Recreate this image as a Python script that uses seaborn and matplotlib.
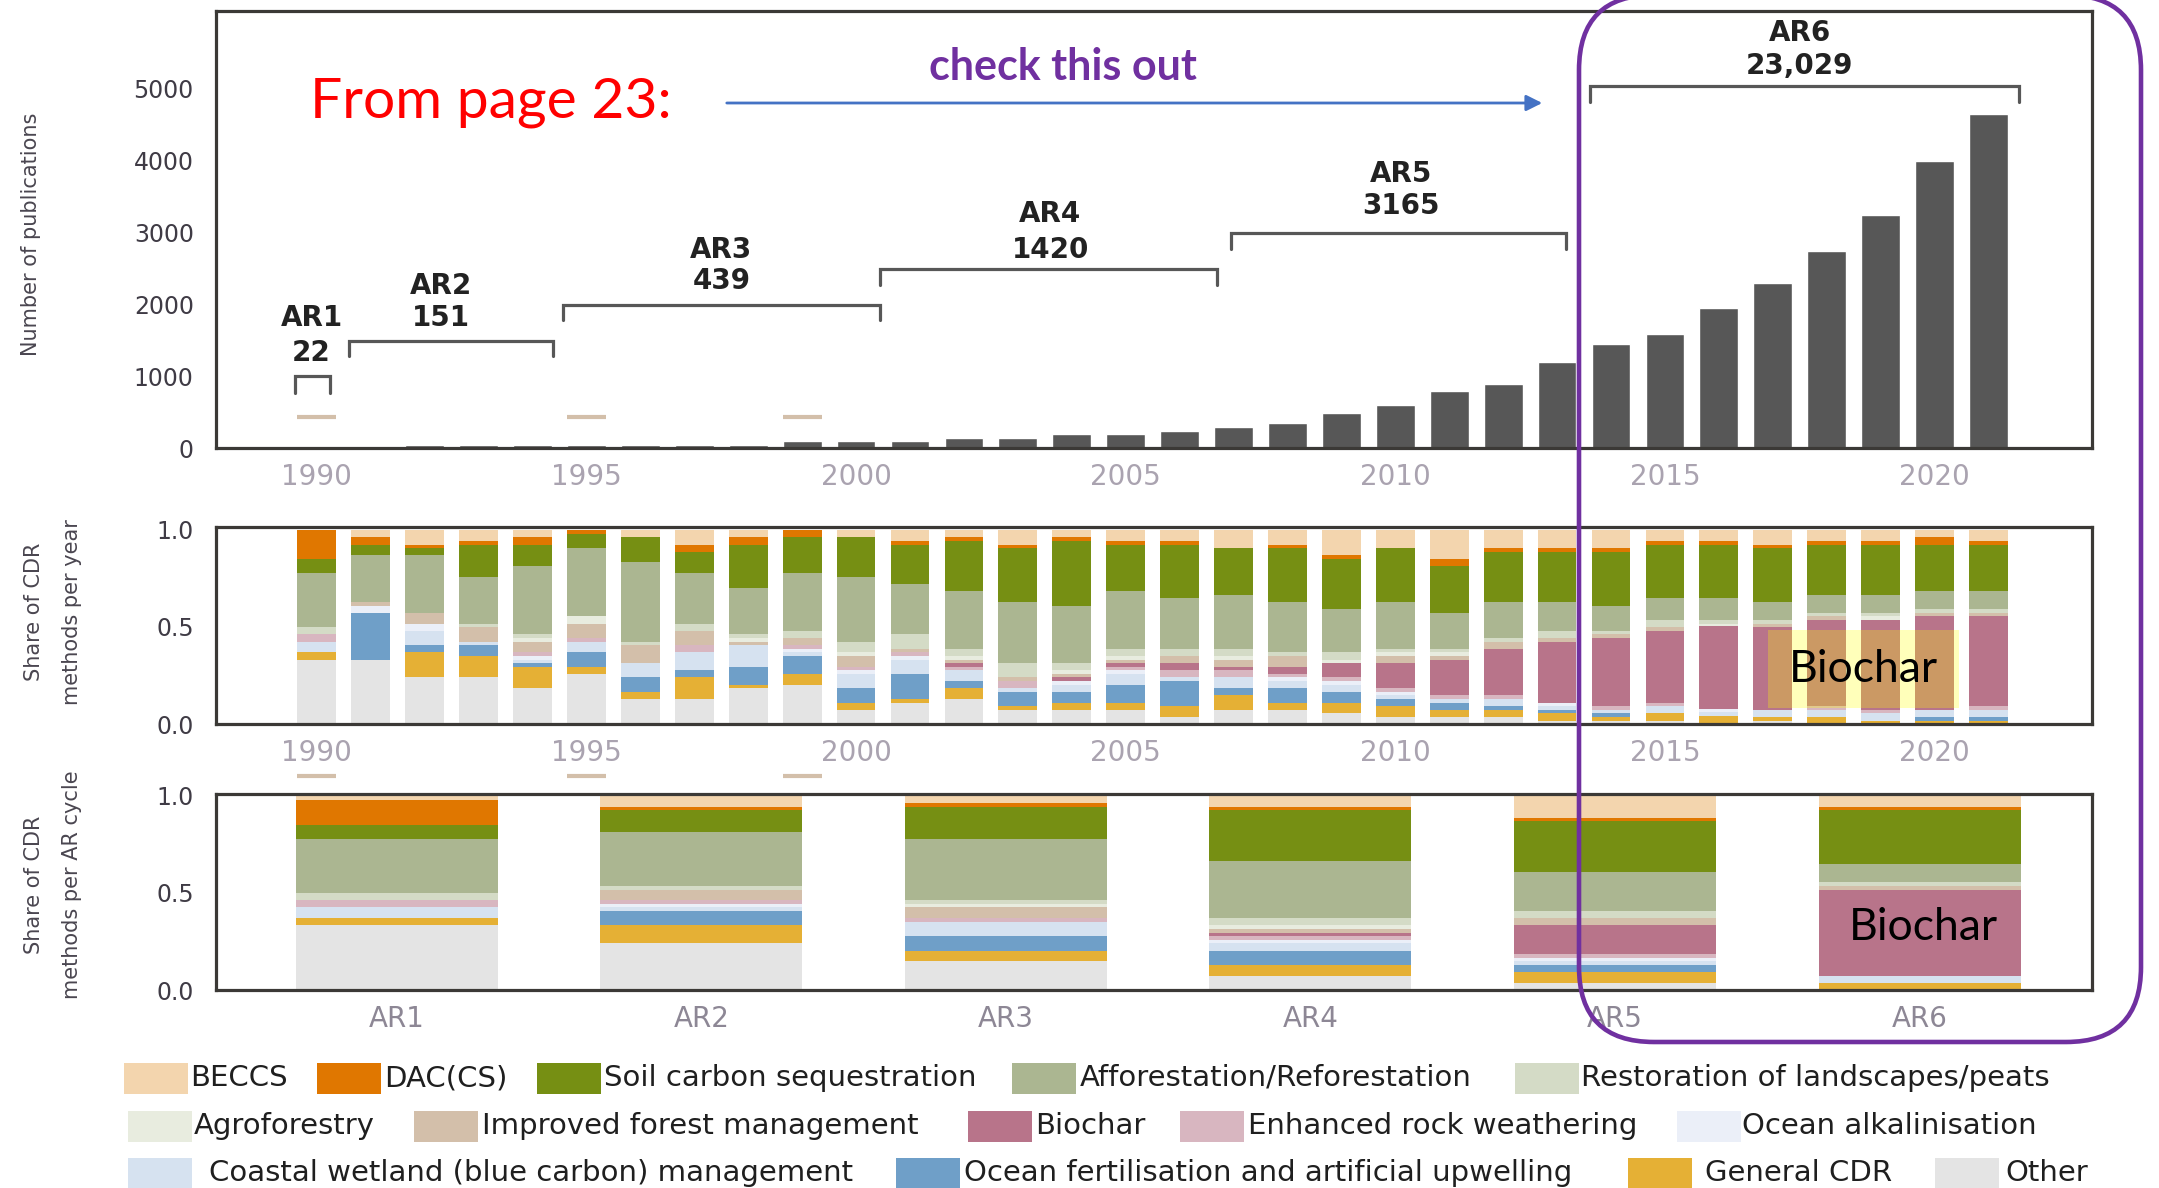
import numpy as np
import pandas as pd
import matplotlib
matplotlib.use("Agg")
import matplotlib.pyplot as plt
from matplotlib import font_manager as fm
from matplotlib.patches import FancyBboxPatch, Rectangle
import seaborn as sns

# ---- data ----
years = list(range(1990, 2022))
publications = [8, 12, 40, 40, 40, 40, 40, 40, 40, 100, 100, 100, 140, 140, 195, 195,
                230, 290, 345, 485, 595, 790, 890, 1195, 1445, 1585, 1950, 2300, 2745,
                3245, 3995, 4645]

methods = ["BECCS", "DAC(CS)", "Soil carbon sequestration", "Afforestation/Reforestation",
           "Restoration of landscapes/peats", "Agroforestry", "Improved forest management",
           "Biochar", "Enhanced rock weathering", "Ocean alkalinisation",
           "Coastal wetland (blue carbon) management",
           "Ocean fertilisation and artificial upwelling", "General CDR", "Other"]
colors = ["#f3d5ae", "#e07700", "#768f13", "#abb691", "#d4dbc6", "#e8ecdf", "#d3bfaa",
          "#b8748a", "#d8b6c0", "#ebeff8", "#d6e2f0", "#6f9fc8", "#e5b035", "#e4e4e4"]

# yearly shares 1990-2021
beccs_yr = [0, .036, .077, .057, .036, 0, .036, .077, .036, 0, .036, .057, .036, .077, .036, .057,
            .057, .093, .077, .129, .093, .15, .093, .093, .093, .057, .057, .077, .057, .057, .036, .057]
dac_yr = [.15, .041, .014, .02, .041, .021, 0, .036, .041, .036, 0, .02, .021, .014, .021, .02,
          .02, 0, .014, .021, 0, .036, .02, .02, .02, .02, .02, .014, .02, .02, .041, .02]
soil_yr = [.072, .052, .038, .165, .109, .072, .129, .109, .222, .186, .206, .201, .257, .28, .335, .237,
           .274, .242, .28, .257, .278, .242, .258, .258, .279, .274, .274, .28, .258, .258, .237, .237]
affor_yr = [.278, .242, .299, .243, .35, .35, .412, .263, .237, .299, .335, .258, .299, .315, .294, .299,
            .262, .278, .258, .222, .242, .185, .186, .15, .129, .113, .113, .093, .093, .093, .093, .093]
restor_yr = [.036, 0, 0, .015, .021, 0, .016, .036, .021, .036, .052, .077, .036, .072, .036, .036,
             .036, .036, .02, .041, .016, .016, .02, .036, .015, .036, .021, .021, .015, .015, .021, .021]
agro_yr = [0, 0, 0, 0, .02, .042, 0, 0, .02, 0, .02, 0, .021, 0, .02, .021,
           0, .021, 0, .016, .02, .02, 0, 0, 0, 0, .015, 0, 0, .021, 0, 0]
ifm_yr = [0, .021, .057, .077, .052, .072, .093, .072, .016, .036, .057, .016, .016, .02, .016, .016,
          .037, .036, .057, 0, .037, .021, .036, .02, .021, .021, 0, .015, .021, 0, .015, .015]
biochar_yr = [0, 0, 0, 0, 0, 0, 0, 0, 0, 0, 0, 0, .02, 0, .02, .02,
              .036, .016, .036, .072, .128, .181, .238, .315, .35, .371, .428, .428, .443, .464, .485, .464]
erw_yr = [.041, 0, 0, 0, .02, .02, 0, .036, 0, .02, .016, .02, .016, .036, 0, .016,
          .036, .036, .016, .02, .021, .02, .02, 0, .021, .015, 0, 0, .021, .015, 0, .021]
alk_yr = [0, .036, .036, 0, .021, 0, 0, 0, 0, .016, .02, .021, 0, 0, .021, .02,
          0, 0, .02, .021, .016, 0, 0, .015, 0, 0, .015, 0, 0, 0, 0, 0]
coastal_yr = [.052, 0, .072, .016, .016, .052, .072, .093, .113, .02, .072, .072, .056, .021, .036, .057,
              .02, .056, .036, .036, .02, .021, .036, .021, .015, .036, .021, .036, .036, .042, .036, .036]
ofert_yr = [0, .242, .036, .056, .02, .077, .077, .036, .093, .093, .078, .129, .036, .072, .057, .093,
            .129, .037, .078, .057, .036, .036, .021, .015, .021, 0, 0, 0, 0, 0, .021, .021]
general_yr = [.041, 0, .129, .109, .108, .036, .036, .113, .015, .057, .036, .021, .057, .021, .036, .036,
              .057, .077, .036, .051, .057, .036, .036, .042, .021, .042, .036, .021, .031, .012, .012, .012]
other_yr = [.33, .33, .242, .242, .186, .258, .129, .129, .186, .201, .072, .108, .129, .072, .072, .072,
            .036, .072, .072, .057, .036, .036, .036, .015, .015, .015, .005, .015, .005, .003, .003, .003]

# shares per AR cycle
cycles = ["AR1", "AR2", "AR3", "AR4", "AR5", "AR6"]
beccs_ar = [.021, .057, .036, .057, .113, .057]
dac_ar = [.129, .015, .021, .015, .016, .015]
soil_ar = [.072, .114, .165, .263, .263, .279]
affor_ar = [.278, .278, .314, .294, .201, .092]
restor_ar = [.036, .021, .021, .036, .036, .021]
agro_ar = [0, 0, .015, .021, 0, 0]
ifm_ar = [0, .051, .057, .02, .036, .021]
biochar_ar = [0, 0, 0, .016, .149, .443]
erw_ar = [.036, .021, .02, .02, .021, 0]
alk_ar = [0, .015, 0, .016, .016, 0]
coastal_ar = [.058, .021, .073, .041, .02, .036]
ofert_ar = [0, .072, .077, .072, .036, 0]
general_ar = [.035, .093, .052, .057, .057, .031]
other_ar = [.335, .242, .149, .072, .036, .005]

# AR cycle brackets in the top panel
ar_names = ["AR1", "AR2", "AR3", "AR4", "AR5", "AR6"]
ar_counts = ["22", "151", "439", "1420", "3165", "23,029"]
bracket_left = [1989.6, 1990.6, 1994.56, 2000.45, 2006.96, 2013.61]
bracket_right = [1990.25, 1994.38, 2000.45, 2006.7, 2013.16, 2021.56]
bracket_top = [997, 1493, 1993, 2490, 2990, 5030]
bracket_bottom = [765, 1275, 1776, 2272, 2772, 4812]
label_x = [1989.9, 1992.3, 1997.5, 2003.6, 2010.1, 2017.5]
name_y = [1808, 2258, 2758, 3255, 3815, 5772]
count_y = [1321, 1808, 2318, 2758, 3370, 5318]
dash_years = [1990, 1995, 1999]

yearly = [beccs_yr, dac_yr, soil_yr, affor_yr, restor_yr, agro_yr, ifm_yr, biochar_yr,
          erw_yr, alk_yr, coastal_yr, ofert_yr, general_yr, other_yr]
per_ar = [beccs_ar, dac_ar, soil_ar, affor_ar, restor_ar, agro_ar, ifm_ar, biochar_ar,
          erw_ar, alk_ar, coastal_ar, ofert_ar, general_ar, other_ar]

df_year = pd.concat([pd.DataFrame({"year": years, "share": v, "method": m})
                     for m, v in zip(methods, yearly)], ignore_index=True)
df_ar = pd.concat([pd.DataFrame({"cycle": range(len(cycles)), "share": v, "method": m})
                   for m, v in zip(methods, per_ar)], ignore_index=True)
palette = dict(zip(methods, colors))

# ---- style ----
sns.set_theme(style="white")
installed = {f.name for f in fm.fontManager.ttflist}
callout = "Lato" if "Lato" in installed else "DejaVu Sans"
narrow = "Liberation Sans Narrow" if "Liberation Sans Narrow" in installed else "DejaVu Sans"
plt.rcParams["font.family"] = ["DejaVu Sans"]

W, H = 2159, 1188
fig = plt.figure(figsize=(W / 100, H / 100), dpi=100)
fig.patch.set_facecolor("white")

def box(top, bottom):
    return [216 / W, 1 - bottom / H, (2092 - 216) / W, (bottom - top) / H]

ax_top = fig.add_axes(box(11, 448))
ax_mid = fig.add_axes(box(527, 724))
ax_bot = fig.add_axes(box(794, 990))

XLIM = (1988.13, 2022.92)

# top panel: publications per year
sns.barplot(x=years, y=publications, native_scale=True, width=0.72, color="#575757",
            saturation=1, errorbar=None, ax=ax_top)
ax_top.set_xlim(*XLIM)
ax_top.set_ylim(0, 6080)
ax_top.set_xticks(range(1990, 2021, 5))
ax_top.set_yticks(range(0, 5001, 1000))
for i in range(len(ar_names)):
    ax_top.plot([bracket_left[i], bracket_left[i], bracket_right[i], bracket_right[i]],
                [bracket_bottom[i], bracket_top[i], bracket_top[i], bracket_bottom[i]],
                color="#575757", lw=2.3, solid_joinstyle="miter")
    ax_top.text(label_x[i], name_y[i], ar_names[i], ha="center", va="center",
                fontsize=20, fontweight="bold", color="#222222")
    ax_top.text(label_x[i], count_y[i], ar_counts[i], ha="center", va="center",
                fontsize=20, fontweight="bold", color="#222222")
ax_top.hlines([431] * len(dash_years), [y - 0.36 for y in dash_years],
              [y + 0.36 for y in dash_years], color="#d3bfaa", lw=3)

# middle panel: share per year
sns.histplot(data=df_year, x="year", weights="share", hue="method", hue_order=methods,
             palette=palette, multiple="fill", discrete=True, shrink=0.72, linewidth=0,
             alpha=1, legend=False, ax=ax_mid)
ax_mid.set_xlim(*XLIM)
ax_mid.set_ylim(0, 1.015)
ax_mid.set_xticks(range(1990, 2021, 5))
ax_mid.set_yticks([0, 0.5, 1.0])
ax_mid.set_yticklabels(["0.0", "0.5", "1.0"])
ax_mid.hlines([-0.267] * len(dash_years), [y - 0.36 for y in dash_years],
              [y + 0.36 for y in dash_years], color="#d3bfaa", lw=3, clip_on=False)

# bottom panel: share per AR cycle
sns.histplot(data=df_ar, x="cycle", weights="share", hue="method", hue_order=methods,
             palette=palette, multiple="fill", discrete=True, shrink=0.663, linewidth=0,
             alpha=1, legend=False, ax=ax_bot)
ax_bot.set_xlim(-0.593, 5.566)
ax_bot.set_ylim(0, 1.01)
ax_bot.set_xticks(range(len(cycles)))
ax_bot.set_xticklabels(cycles)
ax_bot.set_yticks([0, 0.5, 1.0])
ax_bot.set_yticklabels(["0.0", "0.5", "1.0"])

for ax, xcol in [(ax_top, "#aaa3b0"), (ax_mid, "#aaa3b0"), (ax_bot, "#8d8795")]:
    ax.set_xlabel("")
    ax.set_ylabel("")
    for s in ax.spines.values():
        s.set_linewidth(2.3)
        s.set_color("#3b3936")
    ax.tick_params(axis="both", which="major", direction="out", length=10, width=2.2,
                   color="#dcdcdc", pad=1)
    ax.tick_params(axis="x", labelcolor=xcol, labelsize=20)
    ax.tick_params(axis="y", labelcolor="#3f3b45", length=14, labelsize=17, pad=2)

# y axis titles
fig.text(31 / W, 1 - 234 / H, "Number of publications", rotation=90, ha="center",
         va="center", fontsize=15, color="#4a4650", family=narrow)
fig.text(53 / W, 1 - 612 / H, "Share of CDR\nmethods per year", rotation=90, ha="center",
         va="center", fontsize=15, color="#4a4650", linespacing=2.1, family=narrow)
fig.text(53 / W, 1 - 885 / H, "Share of CDR\nmethods per AR cycle", rotation=90, ha="center",
         va="center", fontsize=15, color="#4a4650", linespacing=2.1, family=narrow)

# overlay in pixel coordinates for callouts and legend
ov = fig.add_axes([0, 0, 1, 1], zorder=10)
ov.set_xlim(0, W)
ov.set_ylim(H, 0)
ov.axis("off")
ov.patch.set_alpha(0)

ov.text(310, 118, "From page 23:", color="#ff0000", fontsize=41, family=callout,
        ha="left", va="baseline")
ov.text(929, 80, "check this out", color="#7030a0", fontsize=31, fontweight="bold",
        family=callout, ha="left", va="baseline")
ov.annotate("", xy=(1545, 103), xytext=(724, 103),
            arrowprops=dict(arrowstyle="-|>", color="#4472c4", lw=2, mutation_scale=24))
ov.add_patch(FancyBboxPatch((1579, -5), 2141 - 1579, 1042 + 5,
                            boxstyle="round,pad=0,rounding_size=75", fill=False,
                            ec="#7030a0", lw=3.3, clip_on=False))
ov.add_patch(Rectangle((1768, 630), 191, 78, facecolor="#ffff00", alpha=0.27, lw=0))
ov.text(1863, 670, "Biochar", fontsize=32, family=callout, ha="center", va="center",
        color="black")
ov.text(1923, 927, "Biochar", fontsize=32, family=callout, ha="center", va="center",
        color="black")

# legend, laid out like the original flowing rows
legend_rows = [1078, 1126, 1173]
legend_pos = [(124, 190, 0), (317, 384, 0), (537, 604, 0), (1012, 1080, 0), (1515, 1581, 0),
              (128, 194, 1), (414, 482, 1), (968, 1035, 1), (1180, 1248, 1), (1677, 1742, 1),
              (128, 209, 2), (896, 964, 2), (1628, 1705, 2), (1935, 2005, 2)]
for m, c, (px, tx, r) in zip(methods, colors, legend_pos):
    yc = legend_rows[r]
    ov.add_patch(Rectangle((px, yc - 15.5), 64, 31, facecolor=c, lw=0, clip_on=False))
    ov.text(tx, yc, m, fontsize=21, color="#1f1f1f", ha="left", va="center")

fig.savefig("out.png", dpi=100)
